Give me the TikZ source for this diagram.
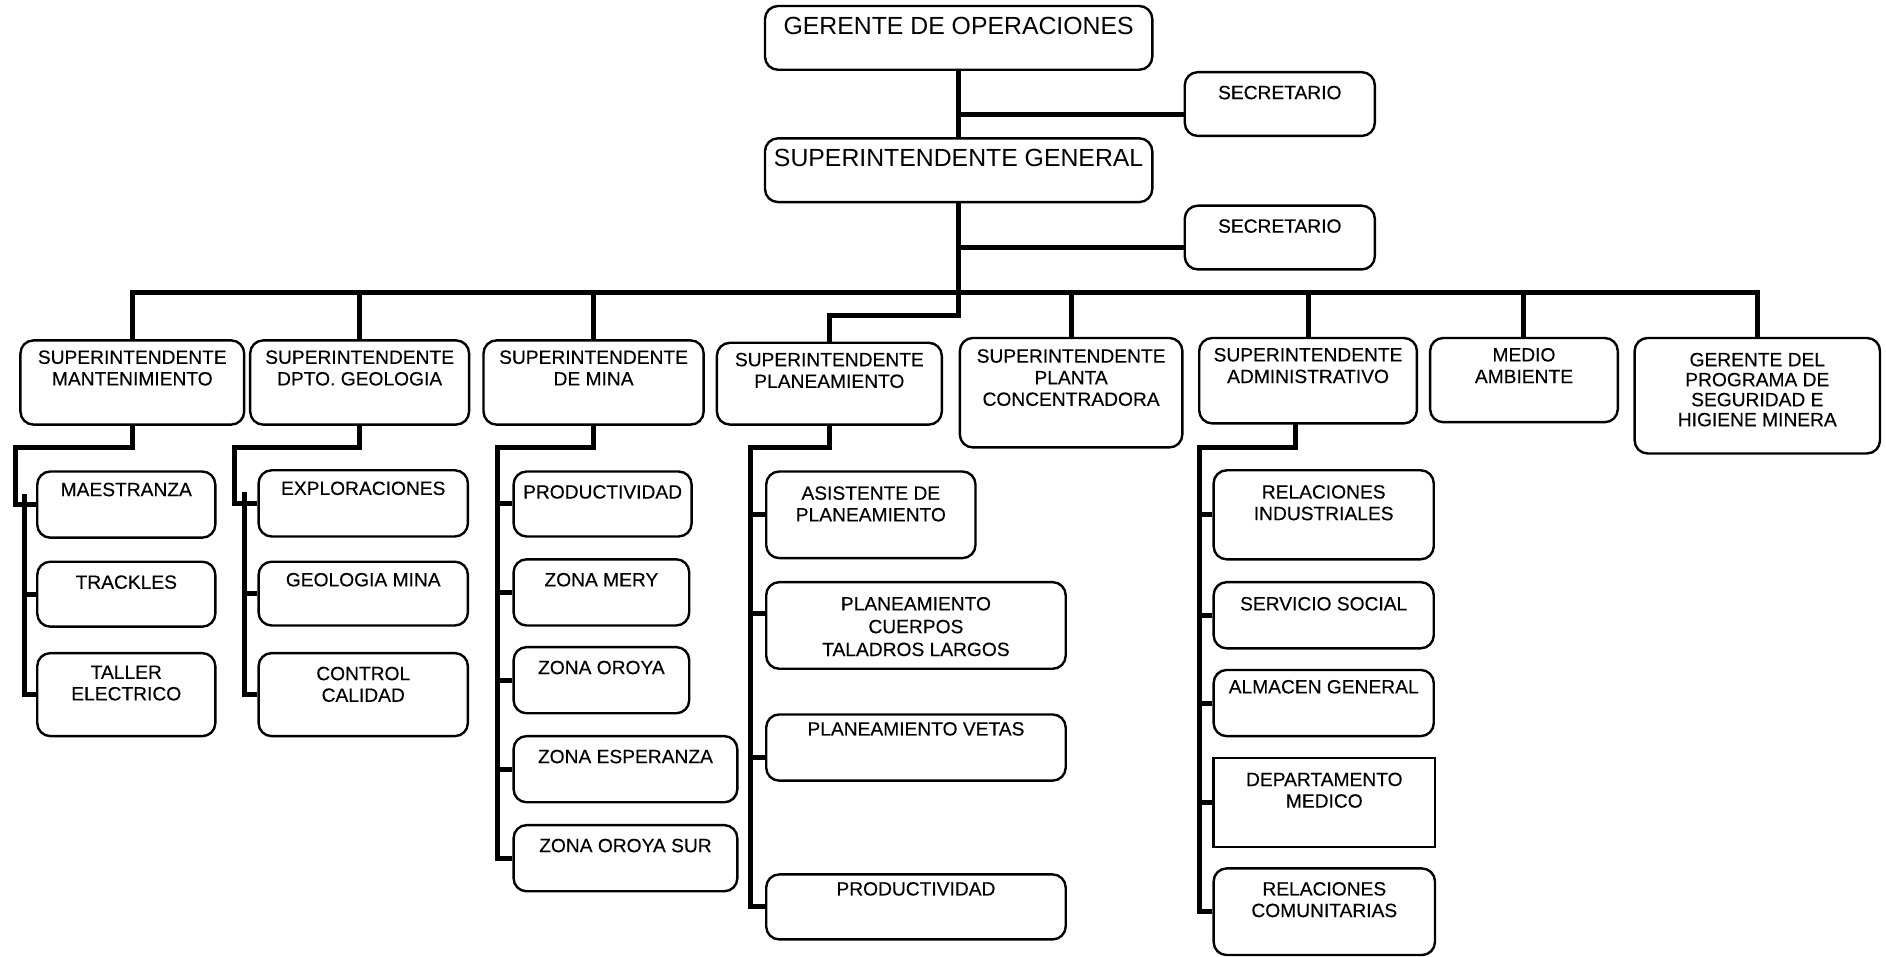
\documentclass[tikz,border=0pt]{standalone}
\usepackage{fontspec}
\setmainfont{Liberation Sans}
\newfontfamily\scanfont[FakeBold=0.3]{Liberation Sans}
\usetikzlibrary{fit,calc}
\newcommand\obox[6][bx]{\node[#1, fit={(#3,#4) (#5,#6)}] (#2) {};}
\newcommand\otxt[4][tx]{\node[#1] (#2t) at ($(#2.north)+(0,#3)$) {#4};}
\begin{document}
\begin{tikzpicture}[x=0.6014pt,y=-0.6014pt,
  bx/.style={draw, line width=1.2pt, rounded corners=6.5pt, inner sep=0pt},
  sq/.style={draw, line width=1.2pt, inner sep=0pt},
  tx/.style={anchor=north, inner sep=0pt, align=center, font=\scanfont\fontsize{9.6}{10.8}\selectfont},
  tx2/.style={tx, font=\scanfont\fontsize{9.6}{10}\selectfont},
  tx3/.style={tx, font=\scanfont\fontsize{9.6}{11.4}\selectfont},
  big/.style={anchor=north, inner sep=0pt, align=center, font=\fontsize{12.4}{14}\selectfont},
  conn/.style={line width=2.5pt}]
\useasboundingbox (0,0) rectangle (1568,795);

% top level
\obox{gop}{636}{5}{958}{58}
\otxt[big]{gop}{10}{GERENTE DE OPERACIONES}
\obox{sec1}{985}{60}{1143}{113}
\otxt{sec1}{12}{SECRETARIO}
\obox{sg}{636}{115}{958}{168}
\otxt[big]{sg}{10}{SUPERINTENDENTE GENERAL}
\obox{sec2}{985}{171}{1143}{224}
\otxt{sec2}{12}{SECRETARIO}

% level 2
\obox{m1}{17}{283}{203}{353}
\otxt{m1}{9}{SUPERINTENDENTE\\MANTENIMIENTO}
\obox{m2}{208}{283}{390}{353}
\otxt{m2}{9}{SUPERINTENDENTE\\DPTO. GEOLOGIA}
\obox{m3}{402}{283}{585}{353}
\otxt{m3}{9}{SUPERINTENDENTE\\DE MINA}
\obox{m4}{596}{285}{783}{353}
\otxt{m4}{9}{SUPERINTENDENTE\\PLANEAMIENTO}
\obox{m5}{798}{281}{983}{372}
\otxt{m5}{10}{SUPERINTENDENTE\\PLANTA\\CONCENTRADORA}
\obox{m6}{997}{281}{1178}{352}
\otxt{m6}{9}{SUPERINTENDENTE\\ADMINISTRATIVO}
\obox{m7}{1189}{281}{1345}{351}
\otxt{m7}{9}{MEDIO\\AMBIENTE}
\obox{m8}{1359}{281}{1563}{377}
\otxt[tx2]{m8}{13}{GERENTE DEL\\PROGRAMA DE\\SEGURIDAD E\\HIGIENE MINERA}

% mantenimiento
\obox{a1}{31}{392}{179}{447}
\otxt{a1}{10}{MAESTRANZA}
\obox{a2}{31}{467}{179}{521}
\otxt{a2}{12}{TRACKLES}
\obox{a3}{31}{543}{179}{612}
\otxt{a3}{11}{TALLER\\ELECTRICO}

% geologia
\obox{b1}{215}{391}{389}{446}
\otxt{b1}{10}{EXPLORACIONES}
\obox{b2}{215}{467}{389}{520}
\otxt{b2}{10}{GEOLOGIA MINA}
\obox{b3}{215}{543}{389}{612}
\otxt{b3}{12}{CONTROL\\CALIDAD}

% mina
\obox{c1}{427}{392}{575}{446}
\otxt{c1}{12}{PRODUCTIVIDAD}
\obox{c2}{427}{465}{573}{520}
\otxt{c2}{12}{ZONA MERY}
\obox{c3}{427}{538}{573}{593}
\otxt{c3}{12}{ZONA OROYA}
\obox{c4}{427}{612}{613}{667}
\otxt{c4}{12}{ZONA ESPERANZA}
\obox{c5}{427}{686}{613}{741}
\otxt{c5}{12}{ZONA OROYA SUR}

% planeamiento
\obox{d1}{637}{392}{811}{464}
\otxt{d1}{13}{ASISTENTE DE\\PLANEAMIENTO}
\obox{d2}{637}{484}{886}{556}
\otxt[tx3]{d2}{13}{PLANEAMIENTO\\CUERPOS\\TALADROS LARGOS}
\obox{d3}{637}{594}{886}{649}
\otxt{d3}{7}{PLANEAMIENTO VETAS}
\obox{d4}{637}{727}{886}{781}
\otxt{d4}{7}{PRODUCTIVIDAD}

% administrativo
\obox{e1}{1009}{391}{1192}{465}
\otxt{e1}{13}{RELACIONES\\INDUSTRIALES}
\obox{e2}{1009}{484}{1192}{539}
\otxt{e2}{13}{SERVICIO SOCIAL}
\obox{e3}{1009}{557}{1192}{612}
\otxt{e3}{9}{ALMACEN GENERAL}
\obox[sq]{e4}{1009}{630}{1193}{704}
\otxt{e4}{13}{DEPARTAMENTO\\MEDICO}
\obox{e5}{1009}{722}{1193}{794}
\otxt{e5}{12}{RELACIONES\\COMUNITARIAS}

% connectors top
\coordinate (j1) at (797,95);
\coordinate (j2) at (797,206);
\coordinate (bus) at (797,243);
\coordinate (jp) at (797,262);
\draw[conn] (gop.south) -- (sg.north);
\draw[conn] (j1) -- (j1 -| sec1.west);
\draw[conn] (j2) -- (j2 -| sec2.west);
\draw[conn] (sg.south) -- (jp) -| (m4.north);
\draw[conn] (m1.north) |- (bus) -| (m8.north);
\foreach \n in {m2,m3,m5,m6,m7} \draw[conn] (\n.north) -- (\n.north |- bus);

% mantenimiento connectors
\coordinate (sa) at (20,411);
\draw[conn] (m1.south) |- (13,372) |- (a1.west);
\draw[conn] (sa) |- (a3.west);
\draw[conn] (a2.west -| sa) -- (a2.west);
% geologia connectors
\coordinate (sb) at (203,409);
\draw[conn] (m2.south) |- (195,372) |- (b1.west);
\draw[conn] (sb) |- (b3.west);
\draw[conn] (b2.west -| sb) -- (b2.west);
% mina connectors
\coordinate (sc) at (414,372);
\draw[conn] (m3.south) |- (sc) |- (c5.west);
\foreach \n in {c1,c2,c3,c4} \draw[conn] (\n.west -| sc) -- (\n.west);
% planeamiento connectors
\coordinate (sd) at (624,372);
\coordinate (t2) at (624,510);
\coordinate (t3) at (624,630);
\draw[conn] (m4.south) |- (sd) |- (d4.west);
\draw[conn] (d1.west -| sd) -- (d1.west);
\draw[conn] (t2) -- (t2 -| d2.west);
\draw[conn] (t3) -- (t3 -| d3.west);
% administrativo connectors
\coordinate (ad) at (1077,352);
\coordinate (se) at (997,372);
\draw[conn] (ad) |- (se) |- (e5.west);
\foreach \n in {e1,e2,e3,e4} \draw[conn] (\n.west -| se) -- (\n.west);
\end{tikzpicture}
\end{document}
